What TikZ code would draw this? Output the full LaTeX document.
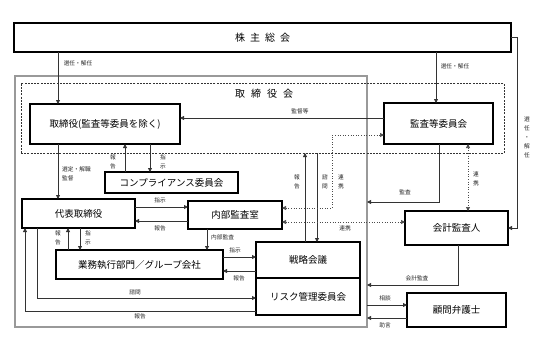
\documentclass[tikz,border=0pt]{standalone}
\usepackage{fontspec}
\setmainfont{Noto Sans CJK JP}
\usetikzlibrary{arrows.meta,calc}
\begin{document}
\begin{tikzpicture}[x=1pt,y=-1pt,
  box/.style={draw=black,line width=1.1pt,rectangle,inner sep=0pt,outer sep=0pt,font=\fontsize{9.5}{11}\selectfont},
  ln/.style={draw=black!80,line width=0.8pt},
  arr/.style={ln,-{Triangle[length=4pt,width=4pt]}},
  darr/.style={draw=black!70,line width=0.6pt,dotted,{Triangle[length=4pt,width=4pt]}-{Triangle[length=4pt,width=4pt]}},
  lbl/.style={font=\fontsize{5.7}{6.5}\selectfont,text=black!85,inner sep=0pt},
  vlbl/.style={lbl,align=center,font=\fontsize{5.7}{9}\selectfont},
]
\useasboundingbox (0,0) rectangle (551,348);
% outer board box
\node[draw=black!85,line width=0.6pt,double=black!40,double distance=1.5pt,rectangle,inner sep=0,outer sep=0,minimum width=352pt,minimum height=251pt] (bod) at (191,201.5) {};
% dashed board box
\node[draw=black!80,line width=0.7pt,dashed,dash pattern=on 2pt off 1.2pt,rectangle,inner sep=0,outer sep=0,minimum width=483pt,minimum height=70pt] (bodd) at (262.5,118) {};
\node[font=\fontsize{10}{12}\selectfont,inner sep=0] (bodl) at (264,94) {取\hspace{6pt}締\hspace{6pt}役\hspace{6pt}会};

\node[box,minimum width=497pt,minimum height=29pt] (soukai) at (262.5,37.5) {\fontsize{10}{12}\selectfont 株\hspace{5pt}主\hspace{5pt}総\hspace{5pt}会};
\node[box,minimum width=150pt,minimum height=40pt] (tori) at (105,124) {取締役(監査等委員を除く)};
\node[box,minimum width=109pt,minimum height=41pt] (kansa) at (438.5,123.5) {監査等委員会};
\node[box,minimum width=133pt,minimum height=21pt] (comp) at (171.5,182.5) {コンプライアンス委員会};
\node[box,minimum width=113pt,minimum height=29pt] (daihyo) at (78.5,213.5) {代表取締役};
\node[box,minimum width=94pt,minimum height=28pt] (naibu) at (235,215) {内部監査室};
\node[box,minimum width=167pt,minimum height=29pt] (gyomu) at (139.5,264.5) {業務執行部門／グループ会社};
\node[box,minimum width=104pt,minimum height=36pt] (senr) at (308,260) {戦略会議};
\node[box,minimum width=104pt,minimum height=37pt] (risk) at (308,296.5) {リスク管理委員会};
\node[box,minimum width=103pt,minimum height=34pt] (kaikei) at (456.5,228) {会計監査人};
\node[box,minimum width=99pt,minimum height=34pt] (komon) at (456.5,310) {顧問弁護士};

% helper coordinates
\coordinate (x25) at (25,0);
\coordinate (x37) at (37,0);
\coordinate (x58) at (58,0);
\coordinate (x68) at (68,0);
\coordinate (x80) at (80,0);
\coordinate (x125) at (125,0);
\coordinate (x150) at (150,0);
\coordinate (x207) at (207,0);
\coordinate (x305) at (305,0);
\coordinate (x317) at (317,0);
\coordinate (x332) at (332,0);
\coordinate (x436) at (436,0);
\coordinate (x439) at (439,0);
\coordinate (x458) at (458,0);
\coordinate (x468) at (468,0);
\coordinate (x517) at (517,0);
\coordinate (y37) at (0,37);
\coordinate (y118) at (0,118);
\coordinate (y135) at (0,135);
\coordinate (y202) at (0,202);
\coordinate (y207) at (0,207);
\coordinate (y208) at (0,208);
\coordinate (y221) at (0,221);
\coordinate (y222) at (0,222);
\coordinate (y228) at (0,228);
\coordinate (y257) at (0,257);
\coordinate (y271) at (0,271);
\coordinate (y285) at (0,285);
\coordinate (y298) at (0,298);
\coordinate (y305) at (0,305);
\coordinate (y311) at (0,311);
\coordinate (y318) at (0,318);

% connectors
\draw[arr] (soukai.south -| x58) -- (tori.north -| x58);
\node[lbl] (l1) at (78,63) {選任・解任};
\draw[arr] (soukai.south -| x436) -- (kansa.north -| x436);
\node[lbl] (l2) at (455,66) {選任・解任};
\draw[arr] (soukai.east |- y37) -- (x517 |- y37) -- (x517 |- kaikei.east) -- (kaikei.east);
\node[vlbl] (l3) at (527,137) {選\\任\\・\\解\\任};

\draw[arr] (kansa.west |- y118) -- (tori.east |- y118);
\node[lbl] (l4) at (300,111) {監督等};

\draw[arr] (comp.north -| x125) -- (tori.south -| x125);
\node[vlbl] (l5) at (113,162) {報\\告};
\draw[arr] (tori.south -| x150) -- (comp.north -| x150);
\node[vlbl] (l6) at (163,162) {指\\示};

\draw[arr] (tori.south -| x58) -- (daihyo.north -| x58);
\node[lbl,anchor=west,align=left,font=\fontsize{5.7}{9}\selectfont] (l7) at (62,174) {選定・解職\\監督};

\draw[arr] (daihyo.east |- y207) -- (naibu.west |- y207);
\node[lbl] (l8) at (160,200) {指示};
\draw[arr] (naibu.west |- y221) -- (daihyo.east |- y221);
\node[lbl] (l9) at (160,228) {報告};

\draw[arr] (gyomu.north -| x68) -- (daihyo.south -| x68);
\node[vlbl] (l10) at (58,238) {報\\告};
\draw[arr] (daihyo.south -| x80) -- (gyomu.north -| x80);
\node[vlbl] (l11) at (88,238) {指\\示};

\draw[arr] (naibu.south -| x207) -- (gyomu.north -| x207);
\node[lbl,anchor=west] (l12) at (211,237) {内部監査};

\draw[arr] (gyomu.east |- y257) -- (senr.west |- y257);
\node[lbl] (l13) at (235,250) {指示};
\draw[arr] (senr.west |- y271) -- (gyomu.east |- y271);
\node[lbl] (l14) at (239,278) {報告};

\draw[arr] (daihyo.south -| x37) -- (x37 |- y298) -- (risk.west |- y298);
\node[lbl] (l15) at (135,292) {諮問};
\draw[arr] (risk.west |- y311) -- (x25 |- y311) -- (daihyo.south -| x25);
\node[lbl] (l16) at (140,316) {報告};

\draw[arr] (senr.north -| x305) -- (bodd.south -| x305);
\node[vlbl] (l17) at (297,182) {報\\告};
\draw[arr] (bodd.south -| x317) -- (senr.north -| x317);
\node[vlbl] (l18) at (325,182) {諮\\問};

\draw[darr] (naibu.east |- y208) -- (x332 |- y208) -- (x332 |- y135) -- (kansa.west |- y135);
\node[vlbl] (l19) at (341,182) {連\\携};
\draw[darr] (naibu.east |- y222) -- (kaikei.west |- y222);
\node[lbl] (l20) at (345,228) {連携};

\draw[arr] (kansa.south -| x439) -- (x439 |- y202) -- (bod.east |- y202);
\node[lbl] (l21) at (405,192) {監査};
\draw[darr] (kansa.south -| x468) -- (kaikei.north -| x468);
\node[vlbl] (l22) at (476,179) {連\\携};

\draw[arr] (kaikei.south -| x458) -- (x458 |- y285) -- (bod.east |- y285);
\node[lbl] (l23) at (417,278) {会計監査};

\draw[arr] (bod.east |- y305) -- (komon.west |- y305);
\node[lbl] (l24) at (385,298) {相談};
\draw[arr] (komon.west |- y318) -- (bod.east |- y318);
\node[lbl] (l25) at (385,325) {助言};
\end{tikzpicture}
\end{document}
